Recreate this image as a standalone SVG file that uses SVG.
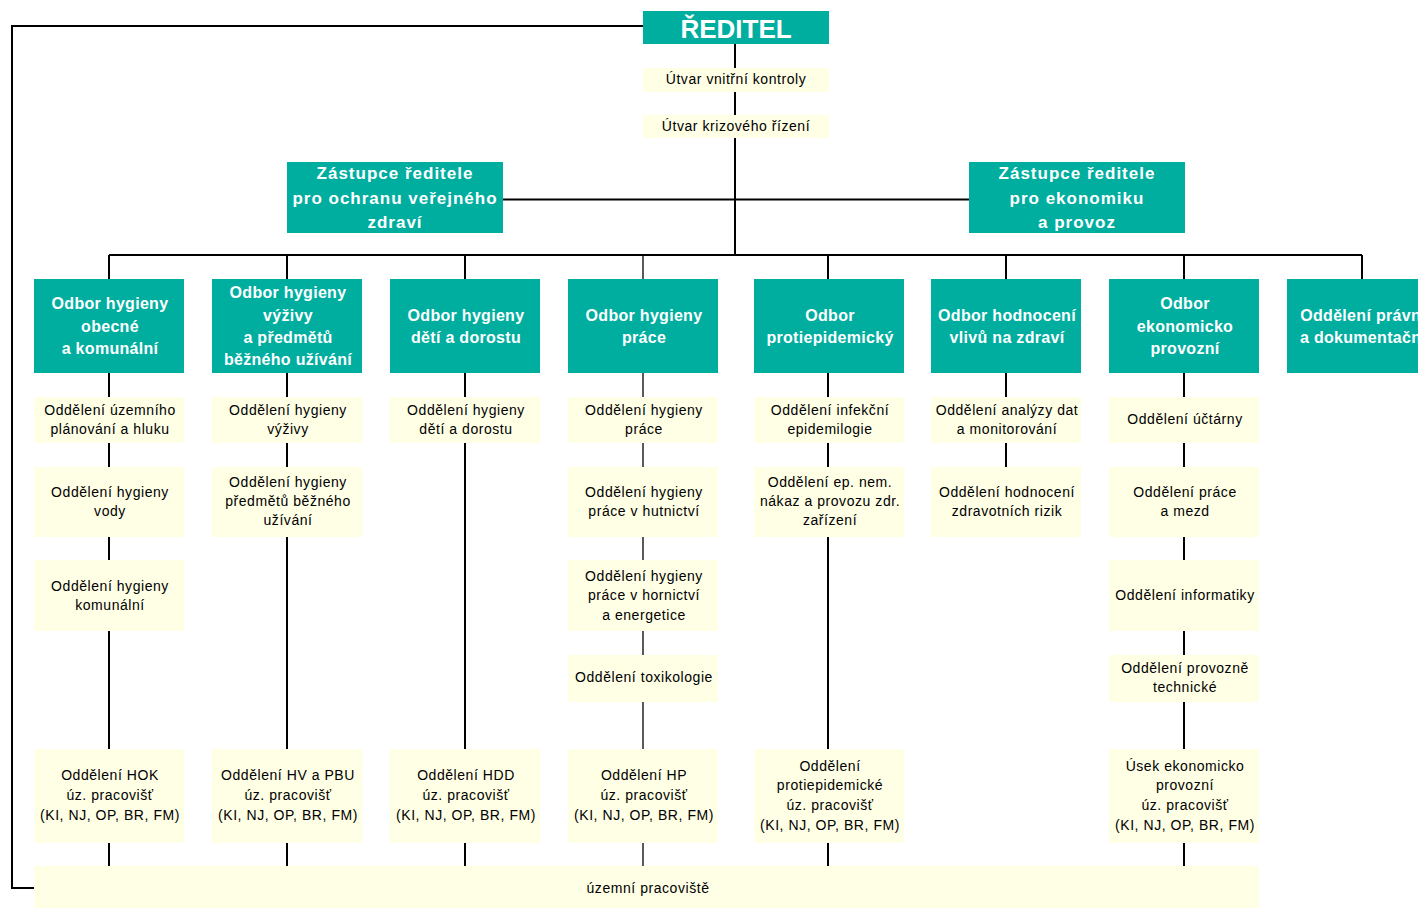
<svg xmlns="http://www.w3.org/2000/svg" width="1418" height="909" viewBox="0 0 1418 909">
<style>
.t{fill:#00AE9F}
.y{fill:#FFFFE6}
.c{stroke:#000;stroke-width:2;fill:none}
.hd{font-family:"Liberation Sans",Arial,sans-serif;font-weight:bold;fill:#fff;text-anchor:middle}
.o{font-size:16px;letter-spacing:0.3px}
.z{font-size:17px;letter-spacing:1px}
.s{font-family:"Liberation Sans",Arial,sans-serif;font-size:14px;letter-spacing:0.55px;fill:#000;text-anchor:middle}
</style>
<rect width="1418" height="909" fill="#fff"/>
<g id="connectors">
<path class="c" d="M643,26 H12 V888 H34"/>
<path class="c" d="M735,44 V255"/>
<path class="c" d="M503,199.5 H969"/>
<path class="c" d="M109,255 H1362"/>
<path class="c" d="M109,255 V866"/>
<path class="c" d="M287,255 V866"/>
<path class="c" d="M465,255 V866"/>
<path class="c" style="stroke-width:1.3" d="M643,255 V866"/>
<path class="c" d="M828,255 V866"/>
<path class="c" d="M1006,255 V467"/>
<path class="c" d="M1184,255 V866"/>
<path class="c" d="M1362,255 V279"/>
</g>
<g id="reditel"><rect class="t" x="643" y="11" width="186" height="33"/><text class="hd" x="736" y="38" font-size="26">ŘEDITEL</text></g>
<g id="uvk"><rect class="y" x="643" y="68" width="186" height="24"/><text class="s" x="736" y="84">Útvar vnitřní kontroly</text></g>
<g id="ukr"><rect class="y" x="643" y="115" width="186" height="23"/><text class="s" x="736" y="131">Útvar krizového řízení</text></g>
<g id="zastupce-ovz"><rect class="t" x="287" y="162" width="216" height="71"/><text class="hd z" x="395"><tspan x="395" y="179">Zástupce ředitele</tspan><tspan x="395" y="203.5">pro ochranu veřejného</tspan><tspan x="395" y="228">zdraví</tspan></text></g>
<g id="zastupce-ep"><rect class="t" x="969" y="162" width="216" height="71"/><text class="hd z" x="1077"><tspan x="1077" y="179">Zástupce ředitele</tspan><tspan x="1077" y="203.5">pro ekonomiku</tspan><tspan x="1077" y="228">a provoz</tspan></text></g>

<g id="odbor-hok"><rect class="t" x="34" y="279" width="150" height="94"/><text class="hd o"><tspan x="110" y="309">Odbor hygieny</tspan><tspan x="110" y="331.5">obecné</tspan><tspan x="110" y="354">a komunální</tspan></text></g>
<g id="odbor-hv"><rect class="t" x="212" y="279" width="150" height="94"/><text class="hd o"><tspan x="288" y="298">Odbor hygieny</tspan><tspan x="288" y="321">výživy</tspan><tspan x="288" y="343">a předmětů</tspan><tspan x="288" y="365">běžného užívání</tspan></text></g>
<g id="odbor-hdd"><rect class="t" x="390" y="279" width="150" height="94"/><text class="hd o"><tspan x="466" y="321">Odbor hygieny</tspan><tspan x="466" y="343">dětí a dorostu</tspan></text></g>
<g id="odbor-hp"><rect class="t" x="568" y="279" width="150" height="94"/><text class="hd o"><tspan x="644" y="321">Odbor hygieny</tspan><tspan x="644" y="343">práce</tspan></text></g>
<g id="odbor-pe"><rect class="t" x="754" y="279" width="150" height="94"/><text class="hd o"><tspan x="830" y="321">Odbor</tspan><tspan x="830" y="343">protiepidemický</tspan></text></g>
<g id="odbor-hvz"><rect class="t" x="931" y="279" width="150" height="94"/><text class="hd o"><tspan x="1007" y="321">Odbor hodnocení</tspan><tspan x="1007" y="343">vlivů na zdraví</tspan></text></g>
<g id="odbor-ep"><rect class="t" x="1109" y="279" width="150" height="94"/><text class="hd o"><tspan x="1185" y="309">Odbor</tspan><tspan x="1185" y="331.5">ekonomicko</tspan><tspan x="1185" y="354">provozní</tspan></text></g>
<g id="odd-pravni"><rect class="t" x="1287" y="279" width="150" height="94"/><text class="hd o"><tspan x="1363" y="321">Oddělení právní</tspan><tspan x="1363" y="343">a dokumentační</tspan></text></g>

<g id="c1r1"><rect class="y" x="34" y="397" width="150" height="46"/><text class="s"><tspan x="110" y="415">Oddělení územního</tspan><tspan x="110" y="434">plánování a hluku</tspan></text></g>
<g id="c1r2"><rect class="y" x="34" y="467" width="150" height="70"/><text class="s"><tspan x="110" y="497">Oddělení hygieny</tspan><tspan x="110" y="516">vody</tspan></text></g>
<g id="c1r3"><rect class="y" x="34" y="560" width="150" height="71"/><text class="s"><tspan x="110" y="591">Oddělení hygieny</tspan><tspan x="110" y="610">komunální</tspan></text></g>
<g id="c1b"><rect class="y" x="34" y="749" width="150" height="94"/><text class="s"><tspan x="110" y="780">Oddělení HOK</tspan><tspan x="110" y="800">úz. pracovišť</tspan><tspan x="110" y="820">(KI, NJ, OP, BR, FM)</tspan></text></g>

<g id="c2r1"><rect class="y" x="212" y="397" width="150" height="46"/><text class="s"><tspan x="288" y="415">Oddělení hygieny</tspan><tspan x="288" y="434">výživy</tspan></text></g>
<g id="c2r2"><rect class="y" x="212" y="467" width="150" height="70"/><text class="s"><tspan x="288" y="487">Oddělení hygieny</tspan><tspan x="288" y="506">předmětů běžného</tspan><tspan x="288" y="525">užívání</tspan></text></g>
<g id="c2b"><rect class="y" x="212" y="749" width="150" height="94"/><text class="s"><tspan x="288" y="780">Oddělení HV a PBU</tspan><tspan x="288" y="800">úz. pracovišť</tspan><tspan x="288" y="820">(KI, NJ, OP, BR, FM)</tspan></text></g>

<g id="c3r1"><rect class="y" x="390" y="397" width="150" height="46"/><text class="s"><tspan x="466" y="415">Oddělení hygieny</tspan><tspan x="466" y="434">dětí a dorostu</tspan></text></g>
<g id="c3b"><rect class="y" x="390" y="749" width="150" height="94"/><text class="s"><tspan x="466" y="780">Oddělení HDD</tspan><tspan x="466" y="800">úz. pracovišť</tspan><tspan x="466" y="820">(KI, NJ, OP, BR, FM)</tspan></text></g>

<g id="c4r1"><rect class="y" x="568" y="397" width="150" height="46"/><text class="s"><tspan x="644" y="415">Oddělení hygieny</tspan><tspan x="644" y="434">práce</tspan></text></g>
<g id="c4r2"><rect class="y" x="568" y="467" width="150" height="70"/><text class="s"><tspan x="644" y="497">Oddělení hygieny</tspan><tspan x="644" y="516">práce v hutnictví</tspan></text></g>
<g id="c4r3"><rect class="y" x="568" y="560" width="150" height="71"/><text class="s"><tspan x="644" y="581">Oddělení hygieny</tspan><tspan x="644" y="600">práce v hornictví</tspan><tspan x="644" y="620">a energetice</tspan></text></g>
<g id="c4r4"><rect class="y" x="568" y="655" width="150" height="47"/><text class="s"><tspan x="644" y="682">Oddělení toxikologie</tspan></text></g>
<g id="c4b"><rect class="y" x="568" y="749" width="150" height="94"/><text class="s"><tspan x="644" y="780">Oddělení HP</tspan><tspan x="644" y="800">úz. pracovišť</tspan><tspan x="644" y="820">(KI, NJ, OP, BR, FM)</tspan></text></g>

<g id="c5r1"><rect class="y" x="754" y="397" width="150" height="46"/><text class="s"><tspan x="830" y="415">Oddělení infekční</tspan><tspan x="830" y="434">epidemilogie</tspan></text></g>
<g id="c5r2"><rect class="y" x="754" y="467" width="150" height="70"/><text class="s"><tspan x="830" y="487">Oddělení ep. nem.</tspan><tspan x="830" y="506">nákaz a provozu zdr.</tspan><tspan x="830" y="525">zařízení</tspan></text></g>
<g id="c5b"><rect class="y" x="754" y="749" width="150" height="94"/><text class="s"><tspan x="830" y="771">Oddělení</tspan><tspan x="830" y="790">protiepidemické</tspan><tspan x="830" y="810">úz. pracovišť</tspan><tspan x="830" y="830">(KI, NJ, OP, BR, FM)</tspan></text></g>

<g id="c6r1"><rect class="y" x="931" y="397" width="150" height="46"/><text class="s"><tspan x="1007" y="415">Oddělení analýzy dat</tspan><tspan x="1007" y="434">a monitorování</tspan></text></g>
<g id="c6r2"><rect class="y" x="931" y="467" width="150" height="70"/><text class="s"><tspan x="1007" y="497">Oddělení hodnocení</tspan><tspan x="1007" y="516">zdravotních rizik</tspan></text></g>

<g id="c7r1"><rect class="y" x="1109" y="397" width="150" height="46"/><text class="s"><tspan x="1185" y="424">Oddělení účtárny</tspan></text></g>
<g id="c7r2"><rect class="y" x="1109" y="467" width="150" height="70"/><text class="s"><tspan x="1185" y="497">Oddělení práce</tspan><tspan x="1185" y="516">a mezd</tspan></text></g>
<g id="c7r3"><rect class="y" x="1109" y="560" width="150" height="71"/><text class="s"><tspan x="1185" y="600">Oddělení informatiky</tspan></text></g>
<g id="c7r4"><rect class="y" x="1109" y="655" width="150" height="47"/><text class="s"><tspan x="1185" y="673">Oddělení provozně</tspan><tspan x="1185" y="692">technické</tspan></text></g>
<g id="c7b"><rect class="y" x="1109" y="749" width="150" height="94"/><text class="s"><tspan x="1185" y="771">Úsek ekonomicko</tspan><tspan x="1185" y="790">provozní</tspan><tspan x="1185" y="810">úz. pracovišť</tspan><tspan x="1185" y="830">(KI, NJ, OP, BR, FM)</tspan></text></g>

<g id="uzemni"><rect class="y" x="34" y="866" width="1225" height="42"/><text class="s" x="648" y="893">územní pracoviště</text></g>
</svg>
